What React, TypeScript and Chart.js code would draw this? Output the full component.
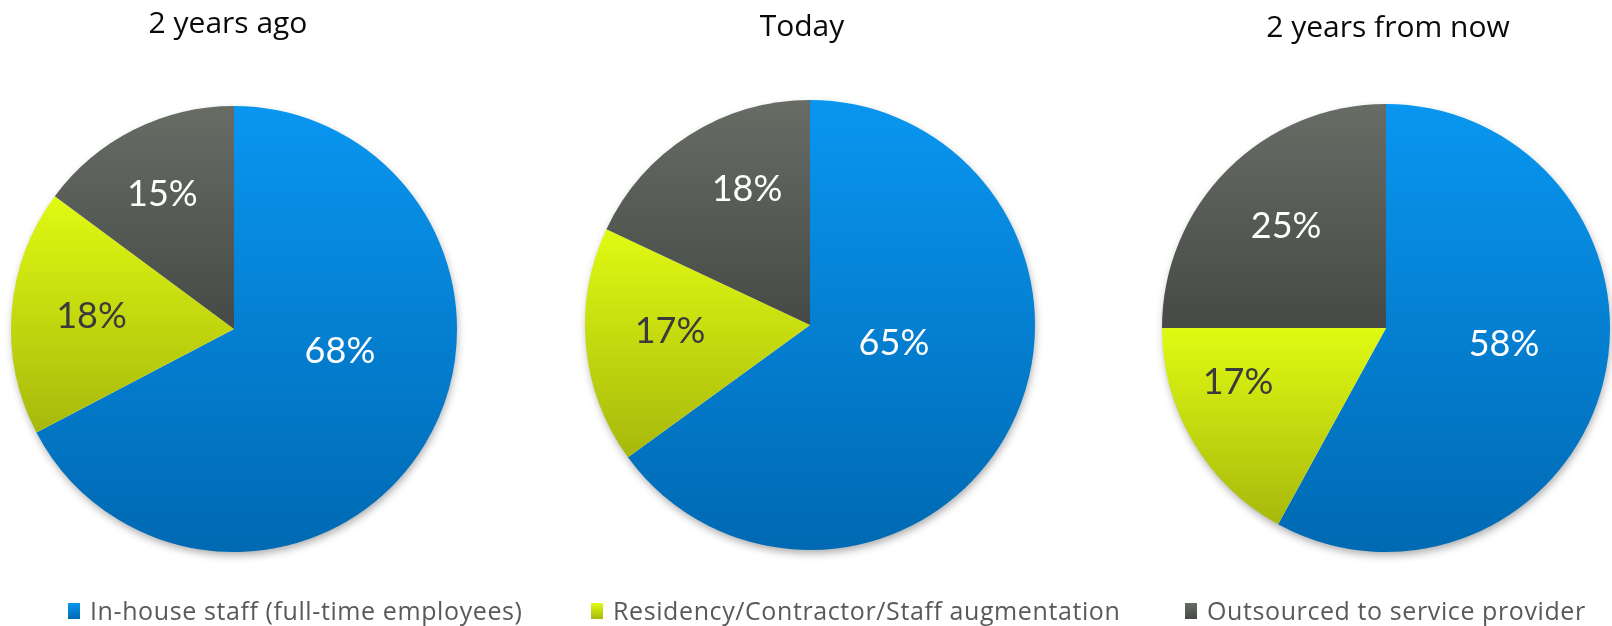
import React, { useEffect, useRef } from "react";
import { Chart, registerables } from "chart.js";

Chart.register(...registerables);

// ---- data ----
const categories = [
  "In-house staff (full-time employees)",
  "Residency/Contractor/Staff augmentation",
  "Outsourced to service provider",
];
const periods = ["2 years ago", "Today", "2 years from now"];
const twoYearsAgo = [68, 18, 15];
const today = [65, 17, 18];
const twoYearsFromNow = [58, 17, 25];
const seriesByPeriod = [twoYearsAgo, today, twoYearsFromNow];

// ---- styles / layout ----
const GRADS: [string, string][] = [
  ["#0996F0", "#0069B3"],
  ["#E0FA12", "#A8B80C"],
  ["#676C65", "#464A46"],
];
const LABEL_COLORS = ["#ffffff", "#3b3b3b", "#ffffff"];
const FONT = "'Open Sans', 'DejaVu Sans', sans-serif";
const LABEL_FONT = "Lato, 'Open Sans', sans-serif";

// canvas placement: pie centre x = left + padL + (width - padL - padR)/2, centre y = height/2
const PIES = [
  { left: -42, width: 540, height: 658, padL: 12, padR: 0, radius: 223 },
  { left: 531, width: 540, height: 650, padL: 18, padR: 0, radius: 225 },
  { left: 1118, width: 540, height: 656, padL: 0, padR: 4, radius: 224 },
];
const TITLES = [
  { center: 228, top: 4 },
  { center: 802, top: 7 },
  { center: 1388, top: 8 },
];
// label anchor relative to pie centre, in units of radius
const LABEL_POS: [number, number][][] = [
  [[0.475, 0.099], [-0.639, -0.058], [-0.321, -0.605]],
  [[0.373, 0.08], [-0.622, 0.027], [-0.28, -0.604]],
  [[0.527, 0.071], [-0.661, 0.241], [-0.446, -0.455]],
];
const LEGEND_X = [68, 591, 1185];

function sliceGradient(ctx: any, pieIdx: number) {
  const chart = ctx.chart;
  const i = ctx.dataIndex;
  const area = chart.chartArea;
  if (!area || i === undefined) return GRADS[i ?? 0][0];
  const vals: number[] = chart.data.datasets[0].data;
  const total = vals.reduce((a, b) => a + b, 0);
  let before = 0;
  for (let k = 0; k < i; k++) before += vals[k];
  const r = PIES[pieIdx].radius;
  const cy = (area.top + area.bottom) / 2;
  const a0 = -Math.PI / 2 + (before / total) * Math.PI * 2;
  const a1 = a0 + (vals[i] / total) * Math.PI * 2;
  const ys = [cy, cy + r * Math.sin(a0), cy + r * Math.sin(a1)];
  const inRange = (a: number) => {
    for (let t = a - 4 * Math.PI; t <= a + 4 * Math.PI; t += 2 * Math.PI) {
      if (t >= a0 && t <= a1) return true;
    }
    return false;
  };
  if (inRange(Math.PI / 2)) ys.push(cy + r);
  if (inRange(-Math.PI / 2)) ys.push(cy - r);
  const y0 = Math.min(...ys);
  const y1 = Math.max(...ys);
  const g = chart.ctx.createLinearGradient(0, y0, 0, y1);
  g.addColorStop(0, GRADS[i][0]);
  g.addColorStop(1, GRADS[i][1]);
  return g;
}

function PieChart({ idx }: { idx: number }) {
  const ref = useRef<HTMLCanvasElement>(null);
  useEffect(() => {
    if (!ref.current) return;
    const layout = PIES[idx];
    const shadowPlugin = {
      id: "pieShadow",
      beforeDatasetsDraw(chart: any) {
        const arc = chart.getDatasetMeta(0).data[0];
        if (!arc) return;
        const c = chart.ctx;
        c.save();
        c.shadowColor = "rgba(0,0,0,0.35)";
        c.shadowBlur = 9;
        c.shadowOffsetX = 1;
        c.shadowOffsetY = 4;
        c.beginPath();
        c.arc(arc.x, arc.y, arc.outerRadius - 1, 0, Math.PI * 2);
        c.fillStyle = "#ffffff";
        c.fill();
        c.restore();
      },
    };
    const labelPlugin = {
      id: "pieLabels",
      afterDatasetsDraw(chart: any) {
        const meta = chart.getDatasetMeta(0);
        const vals: number[] = chart.data.datasets[0].data;
        const c = chart.ctx;
        c.save();
        c.font = `36px ${LABEL_FONT}`;
        c.textAlign = "center";
        c.textBaseline = "middle";
        meta.data.forEach((arc: any, i: number) => {
          const [fx, fy] = LABEL_POS[idx][i];
          c.fillStyle = LABEL_COLORS[i];
          c.fillText(`${vals[i]}%`, arc.x + fx * arc.outerRadius, arc.y + fy * arc.outerRadius);
        });
        c.restore();
      },
    };
    const chart = new Chart(ref.current, {
      type: "pie",
      data: {
        labels: categories,
        datasets: [
          {
            data: seriesByPeriod[idx],
            backgroundColor: (ctx: any) => sliceGradient(ctx, idx),
            borderWidth: 0,
            radius: layout.radius,
            hoverOffset: 0,
          } as any,
        ],
      },
      options: {
        responsive: false,
        animation: false,
        events: [],
        layout: { padding: { left: layout.padL, right: layout.padR, top: 0, bottom: 0 } },
        plugins: {
          legend: { display: false },
          tooltip: { enabled: false },
          title: { display: false },
        },
      },
      plugins: [shadowPlugin, labelPlugin],
    });
    return () => chart.destroy();
  }, [idx]);
  const l = PIES[idx];
  return (
    <canvas
      ref={ref}
      width={l.width}
      height={l.height}
      style={{ position: "absolute", left: l.left, top: 0, width: l.width, height: l.height }}
    />
  );
}

export default function App() {
  return (
    <div
      style={{
        position: "absolute",
        left: 0,
        top: 0,
        width: 1612,
        height: 626,
        overflow: "hidden",
        background: "#ffffff",
      }}
    >
      {periods.map((_, i) => (
        <PieChart key={i} idx={i} />
      ))}
      {periods.map((p, i) => (
        <div
          key={p}
          style={{
            position: "absolute",
            left: TITLES[i].center - 200,
            top: TITLES[i].top,
            width: 400,
            textAlign: "center",
            fontFamily: FONT,
            fontSize: 30,
            lineHeight: "36px",
            color: "#0a0a0a",
            whiteSpace: "nowrap",
          }}
        >
          {p}
        </div>
      ))}
      {categories.map((cat, i) => (
        <div
          key={cat}
          style={{
            position: "absolute",
            left: LEGEND_X[i],
            top: 595,
            height: 30,
            display: "flex",
            alignItems: "center",
            whiteSpace: "nowrap",
            fontFamily: FONT,
            fontSize: 25,
            letterSpacing: "0.6px",
            color: "#595959",
          }}
        >
          <span
            style={{
              display: "inline-block",
              width: 12,
              height: 16,
              marginRight: 10,
              marginTop: 2,
              background: `linear-gradient(${GRADS[i][0]}, ${GRADS[i][1]})`,
            }}
          />
          <span>{cat}</span>
        </div>
      ))}
    </div>
  );
}
